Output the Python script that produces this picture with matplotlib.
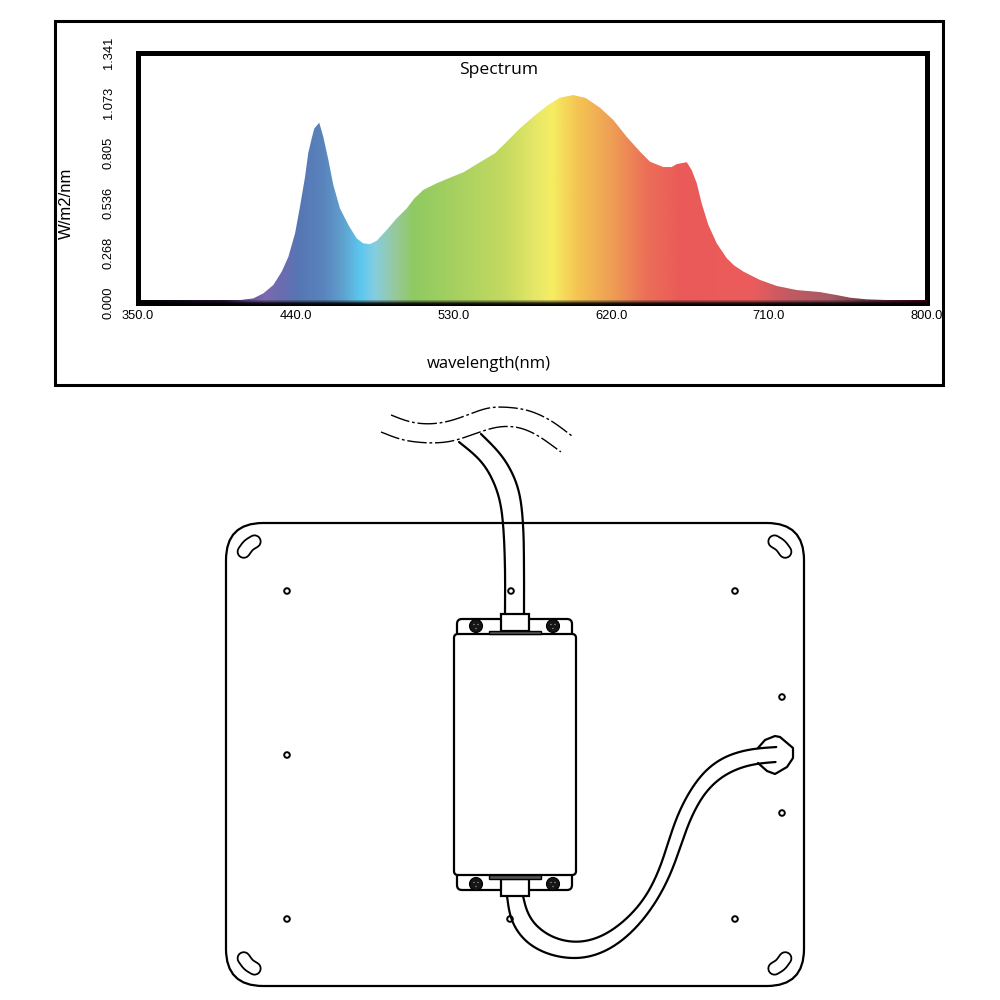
import numpy as np
import matplotlib
matplotlib.use("Agg")
import matplotlib.pyplot as plt
from matplotlib.colors import LinearSegmentedColormap
from matplotlib.patches import FancyBboxPatch, Circle, Polygon, Rectangle
from matplotlib.transforms import Bbox

# Spectrum
wavelength = [350, 400, 408.3, 415.9, 421.6, 427.3, 432.1, 435.9, 439.7, 442.5, 445.4, 447.2, 449.2,
              450.7, 453.5, 455.8, 458.7, 461.5, 465.3, 470.1, 474.8, 478.6, 482.4, 486.3, 492,
              497.7, 503.4, 507.6, 512.8, 520.5, 528.1, 535.7, 545.2, 553.7, 560.4, 568, 575.6,
              584.1, 590.8, 598.4, 605.5, 613.6, 621.2, 628.8, 636.4, 642.1, 649.7, 654.5, 657.4,
              663.1, 665.9, 668.8, 671.6, 675.4, 680.2, 685.9, 690, 695.4, 704.9, 714.4, 725.8,
              739.1, 748.6, 756.2, 765.7, 780.9, 798, 800]
irradiance = [0, 0, 0.013, 0.022, 0.049, 0.094, 0.166, 0.246, 0.372, 0.515, 0.676, 0.802, 0.883,
              0.936, 0.966, 0.891, 0.766, 0.632, 0.506, 0.417, 0.345, 0.318, 0.314, 0.332, 0.390,
              0.453, 0.506, 0.558, 0.605, 0.641, 0.671, 0.700, 0.754, 0.802, 0.864, 0.936, 0.999,
              1.062, 1.101, 1.115, 1.099, 1.047, 0.981, 0.891, 0.811, 0.757, 0.728, 0.728, 0.744,
              0.754, 0.712, 0.641, 0.533, 0.417, 0.318, 0.238, 0.200, 0.166, 0.121, 0.089, 0.067,
              0.056, 0.040, 0.026, 0.017, 0.012, 0.013, 0.012]

x_ticks = [350, 440, 530, 620, 710, 800]
x_tick_labels = ["350.0", "440.0", "530.0", "620.0", "710.0", "800.0"]
y_ticks = [0, 0.268, 0.536, 0.805, 1.073, 1.341]
y_tick_labels = ["0.000", "0.268", "0.536", "0.805", "1.073", "1.341"]

# Colour of the fill along the wavelength axis
color_nm = [350, 400, 412, 422, 432, 442, 456, 466, 477, 485, 497, 507, 530, 560, 578, 586, 600,
            620, 640, 660, 700, 720, 745, 770, 800]
color_hex = ["#000000", "#2a1a40", "#6a4c9c", "#7c6ab0", "#6a6cb0", "#5577b4", "#5a84bd", "#5f9fcc",
             "#5cc8ef", "#85cde0", "#98c89a", "#8fca62", "#a5d060", "#c5da60", "#e8e868", "#f5ee62",
             "#f5c653", "#ee9f55", "#ec6f58", "#ea5a58", "#ec5c5c", "#c45a62", "#a85a66", "#6a3040",
             "#400010"]

# Drawing below the chart, all in picture pixels
small_holes = [(287, 591), (511, 591), (735, 591), (287, 755), (287, 919), (510, 919), (735, 919),
               (782, 697), (782, 813)]
screws = [(476, 626), (553, 626), (476, 884), (553, 884)]
wave_top = [(391, 415), (410, 422), (430, 424), (450, 421), (470, 414), (487, 408), (503, 407),
            (527, 410), (550, 420), (572, 436)]
wave_bottom = [(381, 432), (403, 440), (430, 443), (453, 441), (477, 433), (497, 427), (517, 427),
               (537, 435), (561, 452)]
cable_top_left = [(459, 442), (483, 463), (498, 493), (503, 523), (505, 567), (505, 614)]
cable_top_right = [(481, 434), (503, 457), (518, 487), (523, 523), (524, 567), (524, 614)]
cable_low_outer = [(507, 896), (508, 912), (517, 933), (533, 948), (557, 957), (580, 959), (603, 953),
                   (627, 937), (647, 915), (663, 890), (675, 863), (685, 833), (697, 805), (713, 783),
                   (733, 770), (757, 763), (776, 762)]
cable_low_inner = [(523, 896), (525, 912), (537, 928), (557, 940), (578, 943), (600, 938), (622, 923),
                   (640, 905), (655, 880), (665, 853), (673, 827), (683, 803), (697, 780), (713, 763),
                   (733, 753), (757, 748), (777, 747)]
gland = [(758, 748), (765, 740), (775, 736), (780, 737), (793, 748), (793, 758), (787, 767), (775, 774),
         (767, 771), (758, 763)]
slot_line = [(254.5, 541.5), (248.5, 545.5), (243.5, 552)]


def catmull(p, n=20):
    out = []
    t = np.linspace(0, 1, n)[:, None]
    for i in range(1, len(p) - 2):
        a, b, c, d = p[i - 1], p[i], p[i + 1], p[i + 2]
        out.append(0.5 * (2 * b + (c - a) * t + (2 * a - 5 * b + 4 * c - d) * t ** 2
                          + (3 * b - a - 3 * c + d) * t ** 3))
    return np.vstack(out)


def smooth(points, window=21):
    # Rounds off the hand read outlines of the drawing, the chart data does not go through here
    p = np.array(points, dtype=float)
    p = np.vstack([2 * p[0] - p[1], p, 2 * p[-1] - p[-2]])
    c = catmull(p)
    dist = np.r_[0, np.cumsum(np.hypot(*np.diff(c, axis=0).T))]
    s = np.arange(0, dist[-1], 1.0)
    c = np.c_[np.interp(s, dist, c[:, 0]), np.interp(s, dist, c[:, 1])]
    h = window // 2
    pad = np.vstack([2 * c[0] - c[h:0:-1], c, 2 * c[-1] - c[-2:-h - 2:-1]])
    kernel = np.ones(window) / window
    return np.c_[np.convolve(pad[:, 0], kernel, "valid"), np.convolve(pad[:, 1], kernel, "valid")]


def px_axes(fig, left, top, right, bottom):
    return fig.add_axes([left / 1000, 1 - bottom / 1000, (right - left) / 1000, (bottom - top) / 1000])


def draw_spectrum(fig):
    ax = px_axes(fig, 137.8, 53, 926.8, 302.5)
    stops = [(n - 350) / 450 for n in color_nm]
    cmap = LinearSegmentedColormap.from_list("spectrum", list(zip(stops, color_hex)), N=900)
    grad = np.linspace(0, 1, 900)[None, :]

    im = ax.imshow(grad, cmap=cmap, extent=[350, 800, 0, 1.341], aspect="auto", zorder=1)
    fill = Polygon(list(zip(wavelength, irradiance)) + [(800, 0), (350, 0)], closed=True,
                   transform=ax.transData, facecolor="none", edgecolor="none")
    ax.add_patch(fill)
    im.set_clip_path(fill)

    # The bottom of the frame picks up the fill colour and fades to black
    rgb = cmap(grad[0])[:, :3]
    band = np.stack([rgb * 0.75, rgb * 0.3, rgb * 0.05])
    ax.imshow(band, extent=[350, 800, -0.013, 0.013], aspect="auto", zorder=4, clip_on=False)

    ax.set_xlim(350, 800)
    ax.set_ylim(0, 1.341)
    for spine in ax.spines.values():
        spine.set_linewidth(3.6)
        spine.set_color("black")
        spine.set_zorder(3)

    ax.set_xticks(x_ticks, x_tick_labels, fontfamily="Liberation Sans", fontsize=9.3)
    ax.set_yticks(y_ticks, y_tick_labels, fontfamily="Liberation Sans", fontsize=9.3,
                  rotation=90, va="center")
    ax.tick_params(axis="x", length=0, pad=5.5)
    ax.tick_params(axis="y", length=0, pad=16.5)

    # 800.0 is cut off by the outer frame
    for lab in ax.get_xticklabels():
        lab.set_clip_on(True)
        lab.set_clip_box(Bbox([[0, 0], [943, 1000]]))
    return ax


def line(ax, points, lw=1.6, **kw):
    pts = np.array(points, dtype=float)
    ax.plot(pts[:, 0], pts[:, 1], color="black", lw=lw, solid_capstyle="round", **kw)


def rounded(ax, x0, y0, x1, y1, r, **kw):
    ax.add_patch(FancyBboxPatch((x0 + r, y0 + r), x1 - x0 - 2 * r, y1 - y0 - 2 * r,
                                boxstyle=f"round,pad={r},rounding_size={r}",
                                edgecolor="black", mutation_aspect=1, **kw))


def draw_panel(ax):
    # Panel outline and mounting slots
    rounded(ax, 226, 523, 804, 986, 37, facecolor="none", lw=1.6)
    cx, cy = 514.5, 755
    center = smooth(slot_line, window=3)
    for sx in (1, -1):
        for sy in (1, -1):
            xs = cx + sx * (center[:, 0] - cx)
            ys = cy + sy * (center[:, 1] - cy)
            ax.plot(xs, ys, color="black", lw=10.2, solid_capstyle="round", zorder=2)
            ax.plot(xs, ys, color="white", lw=7.6, solid_capstyle="round", zorder=2.1)

    for h in small_holes:
        ax.add_patch(Circle(h, 2.8, facecolor="white", edgecolor="black", lw=1.4, zorder=2))

    # Cables and the wavy break marks
    line(ax, smooth(wave_top), lw=1.0, linestyle=(0, (14, 2, 2, 2)))
    line(ax, smooth(wave_bottom), lw=1.0, linestyle=(0, (14, 2, 2, 2)))
    line(ax, smooth(cable_top_left, window=31))
    line(ax, smooth(cable_top_right, window=31))
    line(ax, smooth(cable_low_outer, window=45), zorder=3)
    line(ax, smooth(cable_low_inner, window=45), zorder=3)

    # Gland on the panel edge, open where the cable enters
    line(ax, gland, zorder=3, solid_joinstyle="round")

    # Driver box with its brackets and connectors
    rounded(ax, 457, 619, 572, 640, 5, facecolor="white", lw=1.6, zorder=4)
    rounded(ax, 457, 870, 572, 890, 5, facecolor="white", lw=1.6, zorder=4)
    rounded(ax, 454, 634, 576, 875, 4, facecolor="white", lw=1.6, zorder=5)
    for y0, y1, by0, by1 in [(614, 631, 631, 634), (879, 896, 875, 879)]:
        ax.add_patch(Rectangle((501, y0), 28, y1 - y0, facecolor="white", edgecolor="black", lw=1.6, zorder=6))
        ax.add_patch(Rectangle((489, by0), 52, by1 - by0, facecolor="#555555", edgecolor="black", lw=1.0, zorder=6))

    for sx, sy in screws:
        ax.add_patch(Circle((sx, sy), 6.5, facecolor="#151515", edgecolor="black", lw=0.8, zorder=6))
        for dx, dy in [(-2, -1.5), (2, -1.5), (0, 2.5)]:
            ax.add_patch(Circle((sx + dx, sy + dy), 0.7, facecolor="#999999", edgecolor="none", zorder=7))


def main():
    fig = plt.figure(figsize=(10, 10), dpi=100)
    draw_spectrum(fig)

    sketch = fig.add_axes([0, 0, 1, 1], facecolor="none")
    sketch.set_xlim(0, 1000)
    sketch.set_ylim(1000, 0)
    sketch.axis("off")

    # Outer frame of the chart and the texts that sit inside it
    sketch.add_patch(Rectangle((55, 21), 888, 364, facecolor="none", edgecolor="black", lw=2.2))
    sketch.text(499, 69.5, "Spectrum", family="Open Sans", fontsize=12.6, ha="center", va="center")
    sketch.text(488.5, 364, "wavelength(nm)", family="Open Sans", fontsize=12, ha="center", va="center")
    sketch.text(66, 203, "W/m2/nm", family="Liberation Sans", fontsize=12, rotation=90,
                ha="center", va="center")

    draw_panel(sketch)
    fig.savefig("out.png", dpi=100)


if __name__ == "__main__":
    main()
